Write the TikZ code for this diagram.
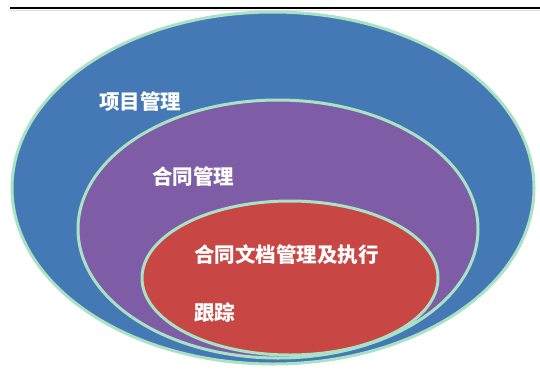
\documentclass[tikz,border=0pt]{standalone}
\usepackage{fontspec}
\setmainfont{Noto Sans CJK SC}
\usetikzlibrary{shapes.geometric}
\definecolor{ringblue}{HTML}{4479B6}
\definecolor{ringpurple}{HTML}{7F5DA6}
\definecolor{ringred}{HTML}{C84745}
\definecolor{rim}{HTML}{A9E2C4}
\tikzset{
  ring/.style={ellipse, draw=rim, line width=3pt, inner sep=0pt},
  lbl/.style={text=white, font=\bfseries\fontsize{20.5}{20.5}\selectfont, anchor=west, inner sep=0pt}
}
\begin{document}
\begin{tikzpicture}[x=1pt,y=-1pt]
\useasboundingbox (0,0) rectangle (540,370);
\fill[gray!25] (10,9.5) rectangle (540,11);
\draw[line width=1.5pt, black] (10,8) -- (540,8);
\node[ring, fill=ringblue, minimum width=522pt, minimum height=352pt] (outer) at (273,188) {};
\node[ring, fill=ringpurple, minimum width=400pt, minimum height=258pt] (mid) at (278,229) {};
\node[ring, fill=ringred, minimum width=296pt, minimum height=154pt] (inner) at (290,278) {};
\node[lbl] (t1) at (99,102) {项目管理};
\node[lbl] (t2) at (152,177) {合同管理};
\node[lbl] (t3) at (194,255) {合同文档管理及执行};
\node[lbl] (t4) at (194,313) {跟踪};
\end{tikzpicture}
\end{document}
